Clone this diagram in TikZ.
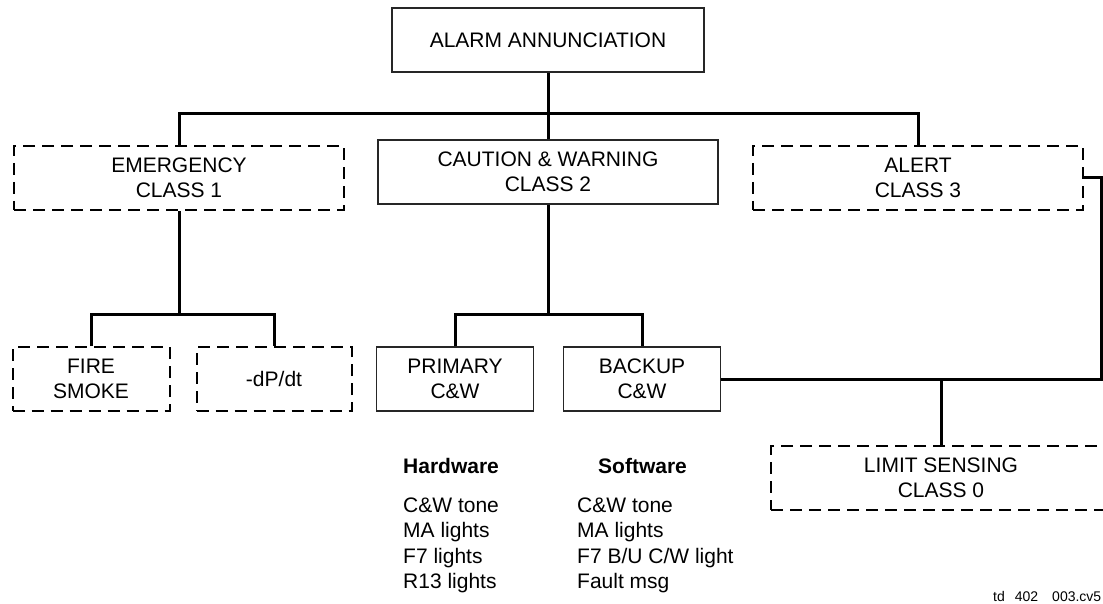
\documentclass[tikz,border=0pt]{standalone}
\usepackage{fontspec}
\setmainfont{Liberation Sans}
\usetikzlibrary{backgrounds}
\pgfdeclarelayer{edgelayer}
\pgfdeclarelayer{nodelayer}
\pgfsetlayers{edgelayer,nodelayer,main}
\tikzset{font=\fontsize{21}{25.5}\selectfont}
\tikzstyle{none}=[inner sep=0pt]
\tikzstyle{solidbox}=[draw=black!85,line width=1.2pt,align=center,minimum height=64pt]
\tikzstyle{dashbox}=[draw,line width=2pt,dash pattern=on 12pt off 7pt,align=center,minimum height=64pt]
\tikzstyle{listtext}=[inner sep=0pt,align=left,anchor=north west]
\tikzstyle{heading}=[inner sep=0pt,anchor=base west,font=\fontsize{21}{25.5}\selectfont\bfseries]
\tikzstyle{wire}=[line width=3pt]

\begin{document}
\begin{tikzpicture}[x=1pt,y=1pt]
	\useasboundingbox (0,0) rectangle (1103,-604);
	\begin{pgfonlayer}{nodelayer}
		\node [style=solidbox, minimum width=312pt] (0) at (548, -40) {ALARM ANNUNCIATION};
		\node [style=dashbox, minimum width=330pt] (1) at (179, -178) {EMERGENCY\\CLASS 1};
		\node [style=solidbox, minimum width=340pt] (2) at (548, -172) {CAUTION \& WARNING\\CLASS 2};
		\node [style=dashbox, minimum width=330pt] (3) at (918, -178) {ALERT\\CLASS 3};
		\node [style=dashbox, minimum width=157pt] (4) at (91, -379) {FIRE\\SMOKE};
		\node [style=dashbox, minimum width=155pt] (5) at (274, -379) {-dP/dt};
		\node [style=solidbox, minimum width=157pt] (6) at (455, -379) {PRIMARY\\C\&W};
		\node [style=solidbox, minimum width=157pt] (7) at (642, -379) {BACKUP\\C\&W};
		\node [style=dashbox, minimum width=340pt] (8) at (941, -478) {LIMIT SENSING\\CLASS 0};
		\node [style=heading] (9) at (403, -473) {Hardware};
		\node [style=heading] (10) at (598, -473) {Software};
		\node [style=listtext] (11) at (403, -497.5) {C\&W tone\\MA lights\\F7 lights\\R13 lights};
		\node [style=listtext] (12) at (577, -497.5) {C\&W tone\\MA lights\\F7 B/U C/W light\\Fault msg};
		\node [style=none, anchor=base west, font=\fontsize{14}{16}\selectfont] (13) at (993, -601) {td\hspace{10pt}402\hspace{14pt}003.cv5};
		\node [style=none] (20) at (179, -114) {};
		\node [style=none] (21) at (548, -114) {};
		\node [style=none] (22) at (918, -114) {};
		\node [style=none] (23) at (179, -314) {};
		\node [style=none] (24) at (91, -314) {};
		\node [style=none] (25) at (274, -314) {};
		\node [style=none] (26) at (548, -314) {};
		\node [style=none] (27) at (455, -314) {};
		\node [style=none] (28) at (642, -314) {};
		\node [style=none] (29) at (1101, -178) {};
		\node [style=none] (30) at (1101, -379) {};
		\node [style=none] (31) at (941, -379) {};
	\end{pgfonlayer}
	\begin{pgfonlayer}{edgelayer}
		\draw [style=wire] (1) to (20.center) to (22.center) to (3);
		\draw [style=wire] (0) to (21.center) to (2);
		\draw [style=wire] (1) to (23.center);
		\draw [style=wire] (4) to (24.center) to (25.center) to (5);
		\draw [style=wire] (2) to (26.center);
		\draw [style=wire] (6) to (27.center) to (28.center) to (7);
		\draw [style=wire] (3) to (29.center) to (30.center) to (7);
		\draw [style=wire] (31.center) to (8);
	\end{pgfonlayer}
\end{tikzpicture}
\end{document}
